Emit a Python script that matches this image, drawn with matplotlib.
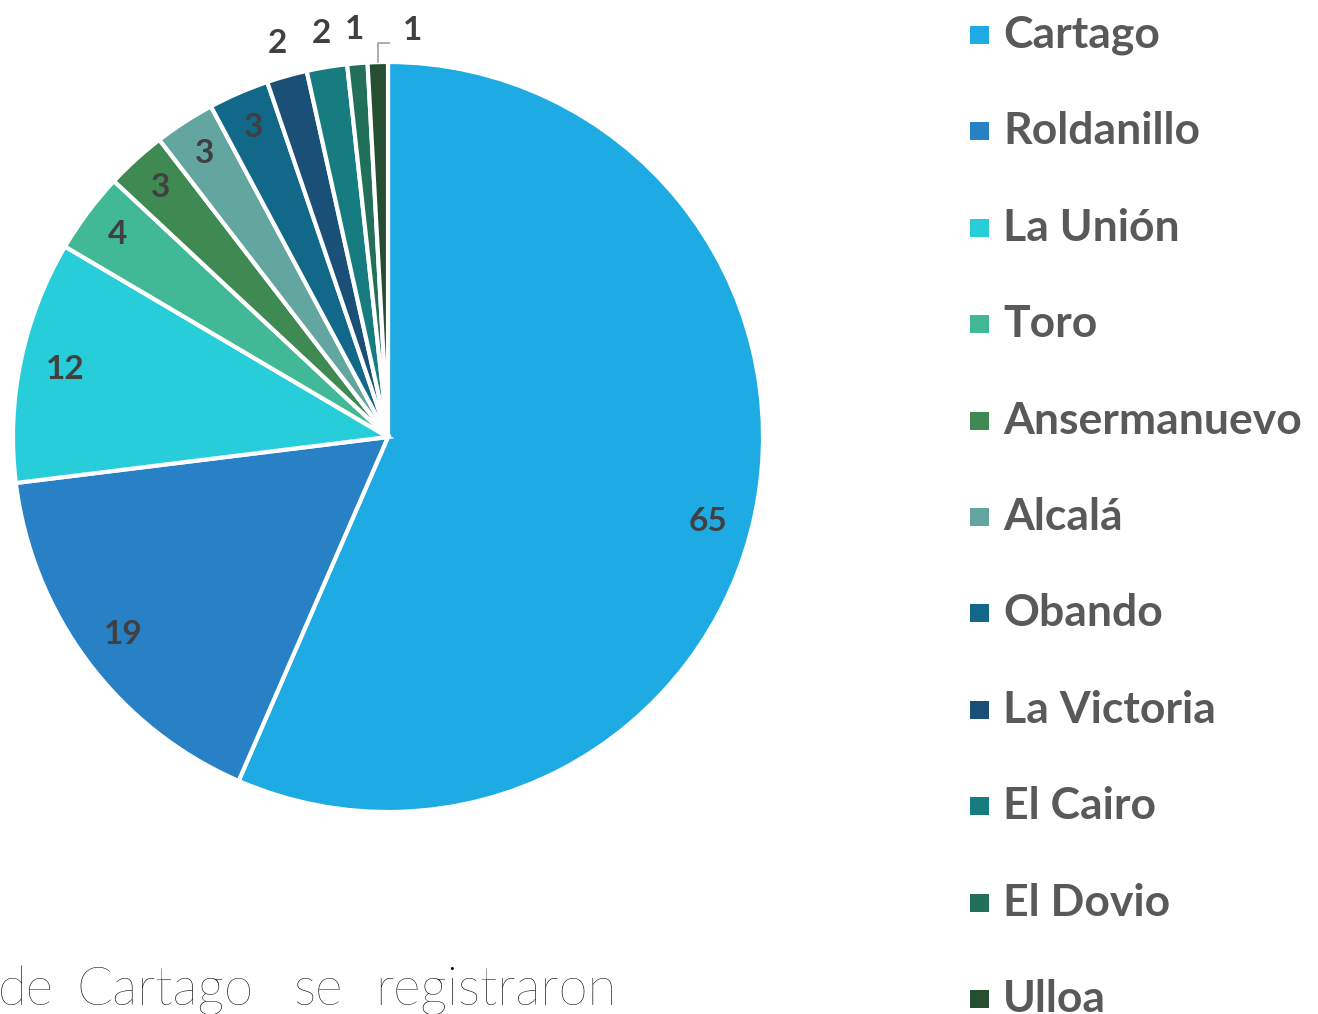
import numpy as np
import matplotlib
matplotlib.use("Agg")
import matplotlib.pyplot as plt
from matplotlib.patches import Rectangle

categories = ["Cartago", "Roldanillo", "La Unión", "Toro", "Ansermanuevo", "Alcalá",
              "Obando", "La Victoria", "El Cairo", "El Dovio", "Ulloa"]
values = [65, 19, 12, 4, 3, 3, 3, 2, 2, 1, 1]
colors = ["#1EABE3", "#2880C5", "#27CDD8", "#42B996", "#3E8A52", "#63A59F",
          "#126888", "#1A4F78", "#177C80", "#23705A", "#254F30"]
footer_words = ["de", "Cartago", "se", "registraron"]

W, H = 1318, 1014
fig = plt.figure(figsize=(W / 100, H / 100), dpi=100)
fig.patch.set_facecolor("white")

cx, cy, R = 388, 437, 375
ax = fig.add_axes([(cx - R) / W, (H - cy - R) / H, 2 * R / W, 2 * R / H])

wedges, _ = ax.pie(values, colors=colors, startangle=90, counterclock=False, radius=1.0,
                   wedgeprops=dict(edgecolor="white", linewidth=3))
ax.set_xlim(-1, 1)
ax.set_ylim(-1, 1)
ax.set_aspect("equal")
ax.axis("off")
for w in wedges:
    w.set_clip_on(False)

total = sum(values)
cum = np.cumsum([0] + values)
label_kw = dict(color="#404040", fontsize=24, fontweight="bold", family="Lato",
                ha="center", va="center", clip_on=False)
for i, v in enumerate(values):
    mid = (cum[i] + cum[i + 1]) / 2
    ang = np.deg2rad(90 - 360 * mid / total)
    if i == len(values) - 1:
        x0 = np.cos(ang)
        ax.plot([x0, x0, x0 + 0.03], [1.0, 1.05, 1.05], color="#A6A6A6", lw=1.3, clip_on=False)
        ax.text(x0 + 0.092, 1.085, str(v), **label_kw)
    elif v <= 2:
        ax.text(1.09 * np.cos(ang), 1.09 * np.sin(ang), str(v), **label_kw)
    else:
        r = 0.88 if v > 4 else 0.9
        dy = -0.045 if i == 0 else 0.0
        ax.text(r * np.cos(ang) - (0.008 if i == 0 else 0), r * np.sin(ang) + dy, str(v), **label_kw)

# legend
y0, step = 35, 96.4
for i, (name, c) in enumerate(zip(categories, colors)):
    yy = y0 + i * step
    fig.patches.append(Rectangle((970 / W, (H - yy - 9) / H), 19 / W, 18 / H,
                                 transform=fig.transFigure, facecolor=c, edgecolor="none"))
    fig.text(1003 / W, (H - yy) / H, name, color="#595959", fontsize=32, fontweight="bold",
             family="Lato", ha="left", va="center")

# footer text (justified-looking words)
word_x = [-2, 76, 293, 375]
for wx, word in zip(word_x, footer_words):
    fig.text(wx / W, (H - 1005) / H, word, color="black", fontsize=38, fontweight="light",
             family="Lato", ha="left", va="baseline")

fig.savefig("out.png", dpi=100, facecolor="white")
